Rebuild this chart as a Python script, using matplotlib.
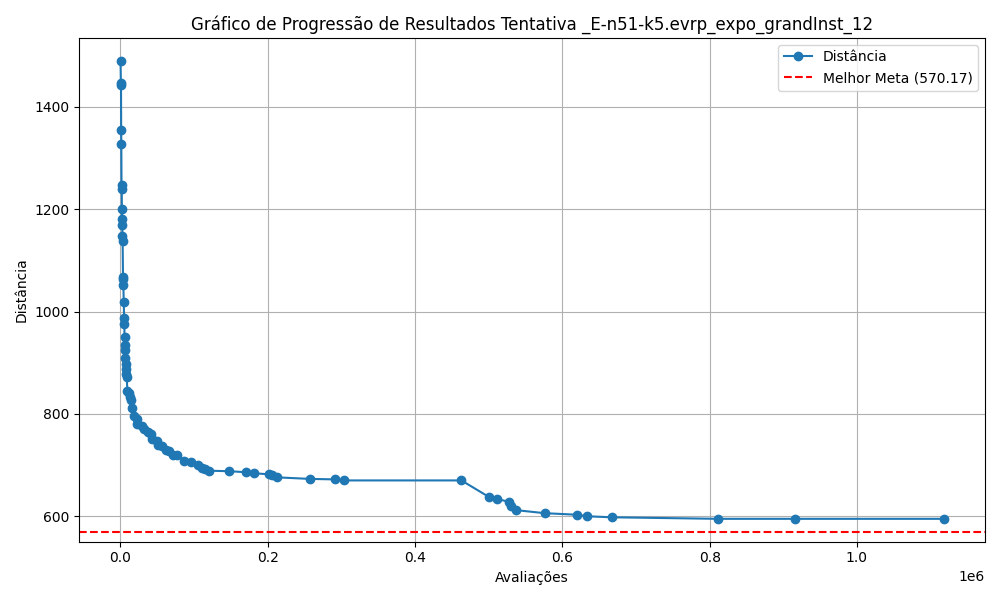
import matplotlib
matplotlib.use("Agg")
import matplotlib.pyplot as plt

avaliacoes = [200, 600, 800, 1000, 1200, 1500, 1800, 2000, 2200, 2500, 2700, 3000,
              3500, 3800, 4000, 4500, 5000, 5300, 5600, 6000, 6400, 6800, 7200, 7600,
              8000, 8500, 9500, 11000, 12500, 14000, 15500, 18000, 22000, 23000, 29000,
              31500, 37000, 41000, 43000, 49000, 51500, 57000, 62500, 66500, 72000,
              77000, 87000, 96500, 106000, 111000, 115000, 120000, 148000, 171000,
              181000, 202000, 206000, 213000, 257000, 292000, 304000, 463000, 500000,
              511000, 528000, 530000, 537000, 576000, 620000, 633000, 667000, 811000,
              916000, 1118000]
distancia = [1490, 1447, 1442, 1355, 1328, 1247, 1240, 1200, 1180, 1170, 1148, 1138,
             1068, 1063, 1052, 1018, 988, 976, 950, 935, 925, 910, 898, 888,
             878, 872, 845, 840, 833, 828, 812, 795, 790, 780, 777,
             770, 765, 760, 750, 748, 740, 738, 730, 728, 720,
             720, 708, 706, 701, 695, 692, 689, 688, 686,
             684, 682, 680, 676, 673, 672, 670, 670, 638,
             634, 628, 620, 612, 606, 603, 600, 598, 595,
             595, 595]
melhor_meta = 570.17

fig, ax = plt.subplots(figsize=(10, 6), dpi=100)
ax.plot(avaliacoes, distancia, marker="o", color="tab:blue", label="Distância")
ax.axhline(melhor_meta, color="red", linestyle="--", label=f"Melhor Meta ({melhor_meta})")
ax.set_xlabel("Avaliações")
ax.set_ylabel("Distância")
ax.set_title("Gráfico de Progressão de Resultados Tentativa _E-n51-k5.evrp_expo_grandInst_12")
ax.legend()
ax.grid(True)
fig.tight_layout()
fig.savefig("out.png")
